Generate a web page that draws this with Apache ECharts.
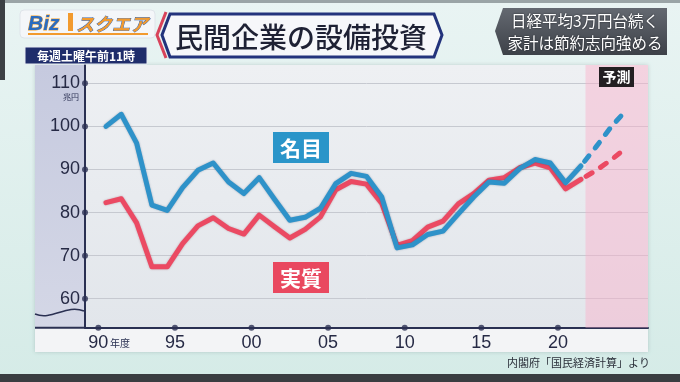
<!DOCTYPE html>
<html><head><meta charset="utf-8">
<script src="https://cdn.jsdelivr.net/npm/echarts@6/dist/echarts.min.js"></script>
<style>html,body{margin:0;padding:0;background:#e2f1ef}#c{width:680px;height:382px}</style>
</head><body><div id="c"></div>
<script>
// ---- data (兆円, fiscal year) ----
const actualYears = [1990,1991,1992,1993,1994,1995,1996,1997,1998,1999,2000,2001,2002,2003,2004,2005,2006,2007,2008,2009,2010,2011,2012,2013,2014,2015,2016,2017,2018,2019,2020,2021];
const nominal = [100.0,102.8,96.1,81.7,80.5,85.8,89.8,91.5,87.1,84.4,88.1,83.1,78.2,78.9,81.0,86.7,89.1,88.4,83.6,71.8,72.5,74.9,75.7,79.7,83.6,87.1,86.8,90.2,92.3,91.5,86.9,90.8];
const real    = [82.3,83.2,77.6,67.4,67.4,72.8,76.9,78.8,76.3,75.0,79.4,76.7,74.1,76.1,79.0,85.3,87.2,86.6,82.1,72.4,73.5,76.6,78.0,82.0,84.4,87.5,88.1,90.4,91.5,90.4,85.5,87.7];
const forecastYears = [2021,2022,2023,2024];
const nominalForecast = [90.8,95.3,100.0,103.9];
const realForecast = [87.7,89.8,92.3,95.1];
const xTicks = [1990,1995,2000,2005,2010,2015,2020];
const xTickLabels = ['90','95','00','05','10','15','20'];
const yTicks = [60,70,80,90,100,110];
const yTickLabels = ['60','70','80','90','100','110'];
const forecastStart = 2021.8;

// ---- layout ----
const X_MIN = 1989.13, X_MAX = 2025.88, Y_MIN = 53.27, Y_MAX = 114.25;
const mid = y => y + 0.5; // points sit in the middle of each fiscal year
const BLUE = '#2e92c9', RED = '#eb4a63', NAVY = '#2a3052';
const JP = '"Noto Sans CJK JP"';

const chart = echarts.init(document.getElementById('c'), null, {renderer:'canvas'});

const bg = [
  {type:'rect', z:-20, shape:{x:0,y:0,width:680,height:382}, style:{fill:new echarts.graphic.LinearGradient(0,0,0,1,[{offset:0,color:'#e9f4f3'},{offset:1,color:'#d5ebe7'}])}},
  {type:'rect', z:-19, shape:{x:0,y:0,width:680,height:3}, style:{fill:'#9aa4a6'}},
  {type:'rect', z:-19, shape:{x:0,y:0,width:5,height:80}, style:{fill:'#3c4044'}},
  {type:'rect', z:-19, shape:{x:0,y:374,width:680,height:8}, style:{fill:'#3a3d41'}},
  // panel
  {type:'rect', z:-18, shape:{x:35,y:65,width:613,height:287}, style:{fill:'#f3f4f6', shadowBlur:4, shadowColor:'rgba(0,40,40,0.18)'}},
  {type:'rect', z:-17, shape:{x:85,y:65,width:563,height:263}, style:{fill:new echarts.graphic.LinearGradient(0,0,0,1,[{offset:0,color:'#eef0f3'},{offset:1,color:'#e2e6eb'}])}},
  {type:'rect', z:-17, shape:{x:35,y:65,width:50,height:263}, style:{fill:new echarts.graphic.LinearGradient(0,0,0,1,[{offset:0,color:'#c6cadf'},{offset:1,color:'#d4d7e6'}])}},
  {type:'line', z:5, shape:{x1:35,y1:327.7,x2:86,y2:327.7}, style:{stroke:NAVY, lineWidth:2}},
  {type:'bezierCurve', z:5, shape:{x1:35,y1:314,cpx1:52,cpy1:321,cpx2:66,cpy2:304,x2:84,y2:311}, style:{stroke:NAVY, lineWidth:1.6, fill:null}},
  {type:'text', z:5, style:{x:71,y:97,text:'兆円',font:'8px '+JP,fill:NAVY,align:'center',verticalAlign:'middle'}},
  {type:'text', z:5, style:{x:110,y:343,text:'年度',font:'10px '+JP,fill:NAVY,align:'left',verticalAlign:'middle'}},
  // header: logo
  {type:'rect', z:5, shape:{x:20,y:10,width:135,height:28,r:4}, style:{fill:'#f4f6f9', stroke:'#dfe4ea', lineWidth:1}},
  {type:'text', z:6, style:{x:28,y:24,text:'Biz',font:'italic bold 21px "Liberation Sans"',fill:'#2b6cc0',stroke:'#f0a030',lineWidth:0.8,verticalAlign:'middle'}},
  {type:'rect', z:6, shape:{x:68,y:13,width:5,height:18}, style:{fill:'#f29a2e'}},
  {type:'text', z:6, style:{x:76,y:24,text:'スクエア',font:'italic bold 18px '+JP,fill:'#f29a2e',stroke:'#2b5fb0',lineWidth:0.8,verticalAlign:'middle'}},
  {type:'rect', z:6, shape:{x:28,y:33,width:120,height:2}, style:{fill:'#f29a2e'}},
  {type:'rect', z:5, shape:{x:25,y:47,width:122,height:17}, style:{fill:'#1f2d6b', stroke:'#e8ecf3', lineWidth:1}},
  {type:'text', z:6, style:{x:86,y:56,text:'毎週土曜午前11時',font:'bold 12px '+JP,fill:'#ffffff',align:'center',verticalAlign:'middle'}},
  // title
  {type:'polyline', z:5, shape:{points:[[166,12],[157,35],[166,58]]}, style:{stroke:'#d8435a',lineWidth:3,fill:null}},
  {type:'polygon', z:5, shape:{points:[[170,14],[434,14],[442,35],[434,57],[170,57],[162,35]]}, style:{fill:'#f6f7fa', stroke:'#23337c', lineWidth:3}},
  {type:'text', z:6, style:{x:301,y:37,text:'民間企業の設備投資',font:'500 28px '+JP,fill:'#1e2134',align:'center',verticalAlign:'middle'}},
  // right headline
  {type:'polygon', z:5, shape:{points:[[503,8],[667,8],[667,55],[503,55],[495,31]]}, style:{fill:new echarts.graphic.LinearGradient(0,0,0,1,[{offset:0,color:'#646971'},{offset:1,color:'#3d4148'}])}},
  {type:'text', z:6, style:{x:585,y:21,text:'日経平均3万円台続く',font:'15.5px '+JP,fill:'#ffffff',align:'center',verticalAlign:'middle',textShadowColor:'#1c1f24',textShadowBlur:2}},
  {type:'text', z:6, style:{x:585,y:43,text:'家計は節約志向強める',font:'15.5px '+JP,fill:'#ffffff',align:'center',verticalAlign:'middle',textShadowColor:'#1c1f24',textShadowBlur:2}},
  // series labels
  {type:'rect', z:10, shape:{x:273,y:132,width:56,height:31}, style:{fill:'#2a95c9'}},
  {type:'text', z:11, style:{x:301,y:148,text:'名目',font:'bold 21px '+JP,fill:'#ffffff',align:'center',verticalAlign:'middle'}},
  {type:'rect', z:10, shape:{x:273,y:262,width:56,height:31}, style:{fill:'#e9485f'}},
  {type:'text', z:11, style:{x:301,y:278,text:'実質',font:'bold 21px '+JP,fill:'#ffffff',align:'center',verticalAlign:'middle'}},
  {type:'rect', z:10, shape:{x:599,y:67,width:35,height:20}, style:{fill:'#231f22'}},
  {type:'text', z:11, style:{x:616.5,y:77,text:'予測',font:'bold 14px '+JP,fill:'#ffffff',align:'center',verticalAlign:'middle'}},
  {type:'text', z:5, style:{x:650,y:363,text:'内閣府「国民経済計算」より',font:'11px '+JP,fill:'#2b2f3a',align:'right',verticalAlign:'middle'}}
];

const lbl = (ticks, labels) => v => { const i = ticks.indexOf(Math.round(v*100)/100); return i >= 0 ? labels[i] : ''; };

const option = {
  animation:false,
  backgroundColor:'transparent',
  graphic:{elements:bg},
  grid:{left:85,right:32,top:65,bottom:54.3},
  xAxis:{type:'value',min:X_MIN,max:X_MAX,splitNumber:7,
    axisLine:{show:true,onZero:false,lineStyle:{color:NAVY,width:2}},
    axisTick:{show:false}, splitLine:{show:false},
    axisLabel:{showMinLabel:false,showMaxLabel:false,formatter:lbl(xTicks,xTickLabels),color:'#262a45',fontSize:18,fontFamily:'Liberation Sans',margin:6}},
  yAxis:{type:'value',min:Y_MIN,max:Y_MAX,splitNumber:6,
    axisLine:{show:true,lineStyle:{color:NAVY,width:2}},
    axisTick:{show:false},
    splitLine:{show:true,showMinLine:false,showMaxLine:false,lineStyle:{color:'#c6c9d0',width:1}},
    axisLabel:{showMinLabel:false,showMaxLabel:false,formatter:lbl(yTicks,yTickLabels),color:'#262a45',fontSize:18,fontFamily:'Liberation Sans',margin:5}},
  series:[
    {type:'line', name:'forecast', data:[], z:1, silent:true,
     markArea:{silent:true, itemStyle:{color:'rgba(250,175,202,0.45)'}, data:[[{xAxis:forecastStart},{xAxis:X_MAX}]]}},
    {type:'line', name:'実質', data:actualYears.map((y,i)=>[mid(y),real[i]]), symbol:'none', z:3,
     lineStyle:{color:RED,width:5,join:'round',cap:'round',shadowBlur:2,shadowColor:'rgba(120,20,40,0.35)'}},
    {type:'line', name:'実質予測', data:forecastYears.map((y,i)=>[mid(y),realForecast[i]]), symbol:'none', z:3,
     lineStyle:{color:RED,width:5,type:[7,10],dashOffset:-6,cap:'round',join:'round'}},
    {type:'line', name:'名目', data:actualYears.map((y,i)=>[mid(y),nominal[i]]), symbol:'none', z:4,
     lineStyle:{color:BLUE,width:5,join:'round',cap:'round',shadowBlur:2,shadowColor:'rgba(10,50,90,0.35)'}},
    {type:'line', name:'名目予測', data:forecastYears.map((y,i)=>[mid(y),nominalForecast[i]]), symbol:'none', z:4,
     lineStyle:{color:BLUE,width:5,type:[7,10],dashOffset:-6,cap:'round',join:'round'}},
    {type:'scatter', name:'xdots', data:xTicks.map(t=>[t,Y_MIN]), symbolSize:6, clip:false, z:6, silent:true, itemStyle:{color:NAVY}},
    {type:'scatter', name:'ydots', data:yTicks.map(v=>[X_MIN,v]), symbolSize:6, clip:false, z:6, silent:true, itemStyle:{color:NAVY}}
  ]
};
chart.setOption(option);
</script></body></html>
